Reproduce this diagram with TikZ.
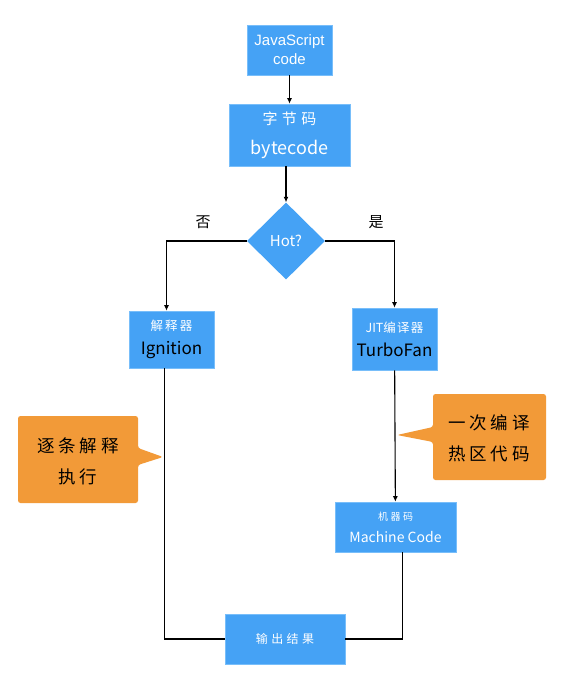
\documentclass[tikz,border=0pt]{standalone}
\usepackage{fontspec}
\setmainfont{Liberation Sans}
\newfontfamily\cjk{Noto Sans CJK SC}
\usetikzlibrary{shapes.geometric,arrows.meta}
\definecolor{boxblue}{RGB}{69,162,245}
\definecolor{boxedge}{RGB}{120,190,250}
\definecolor{callorange}{RGB}{242,154,56}
\begin{document}
\begin{tikzpicture}[x=1pt,y=-1pt,
  bbox/.style={rectangle, fill=boxblue, draw=boxedge, line width=0.6pt, inner sep=0pt, align=center},
  arr/.style={-{Latex[length=5.5pt,width=5pt]}, line width=1.1pt, black},
  conn/.style={line width=1.1pt, black},
  callout/.style={fill=callorange, rounded corners=2.5pt},
  ctext/.style={align=center, font={\cjk\fontsize{17.5}{31}\selectfont\addfontfeature{LetterSpace=22}}},
  lbl/.style={font={\cjk\fontsize{15}{16}\selectfont}}]
\useasboundingbox (0,0) rectangle (577,682);
\fill[white] (0,0) rectangle (577,682);

\node[bbox, minimum width=85pt, minimum height=50pt, text=white,
  font={\fontsize{15}{19}\selectfont}] (js) at (289.5,50) {JavaScript\\code};
\node[bbox, minimum width=121pt, minimum height=62pt, text=white,
  font={\cjk\fontsize{18}{30}\selectfont}] (bc) at (289.5,135)
  {{\fontsize{15}{30}\selectfont\addfontfeature{LetterSpace=30}字节码}\\bytecode};
\node[diamond, fill=boxblue, inner sep=0pt, minimum width=78pt, minimum height=77pt,
  text=white, font={\cjk\fontsize{15}{16}\selectfont}] (hot) at (286,241) {Hot?};
\node[lbl] (no) at (203,222) {否};
\node[lbl] (yes) at (376,222) {是};

\node[bbox, minimum width=85pt, minimum height=57pt,
  font={\cjk\fontsize{17}{24}\selectfont}] (interp) at (171.5,339.5)
  {{\color{white}\fontsize{12.5}{24}\selectfont\addfontfeature{LetterSpace=18}解释器}\\{\color{black}Ignition}};
\node[bbox, minimum width=85pt, minimum height=62pt,
  font={\cjk\fontsize{17}{24}\selectfont}] (turbo) at (394.5,339)
  {{\color{white}\fontsize{12.5}{24}\selectfont JIT\addfontfeature{LetterSpace=10}编译器}\\{\color{black}TurboFan}};
\node[bbox, minimum width=121pt, minimum height=50pt, text=white,
  font={\cjk\fontsize{14}{22}\selectfont}] (mc) at (395.5,527)
  {{\fontsize{10}{22}\selectfont\addfontfeature{LetterSpace=25}机器码}\\Machine Code};
\node[bbox, minimum width=120pt, minimum height=50pt, text=white,
  font={\cjk\fontsize{12}{14}\selectfont\addfontfeature{LetterSpace=28}}] (out) at (285,639) {输出结果};

\draw[arr] (js) -- (bc);
\draw[arr] (bc.south -| hot.north) -- (hot.north);
\draw[arr] (hot.west) -| ([xshift=-5pt]interp.north);
\draw[arr] (hot.east) -| (turbo.north);
\draw[arr] (turbo) -- (mc);
\draw[conn] ([xshift=-7pt]interp.south) |- (out.west);
\draw[conn] ([xshift=7pt]mc.south) |- (out.east);

\fill[callout] (18,416) -- (138,416) -- (138,448) -- (163,457) -- (138,465) -- (138,503) -- (18,503) -- cycle;
\node[ctext] (c1) at (78,461) {逐条解释\\执行};
\fill[callout] (433,394) -- (546,394) -- (546,480) -- (433,480) -- (433,442) -- (397,435) -- (433,427) -- cycle;
\node[ctext] (c2) at (489,438) {一次编译\\热区代码};
\end{tikzpicture}
\end{document}
